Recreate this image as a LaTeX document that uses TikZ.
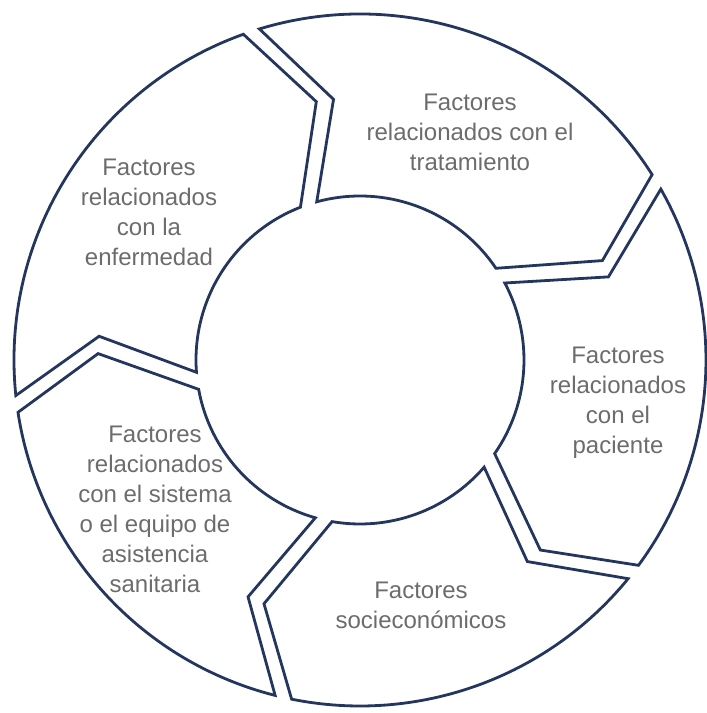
\documentclass[tikz,border=0pt]{standalone}
\usepackage{fontspec}
\setmainfont{Liberation Sans}
\definecolor{ringblue}{RGB}{36,54,94}
\definecolor{labelgray}{RGB}{108,108,108}
\tikzset{
  segline/.style={draw=ringblue, line width=1.4pt, line join=miter},
  seglabel/.style={text=labelgray, align=center, inner sep=0pt,
    font=\fontsize{12}{15}\selectfont}
}
\begin{document}
\begin{tikzpicture}[x=0.5pt,y=0.5pt]
\useasboundingbox (-360,-353) rectangle (347,360);
% ring pieces: start gap / end gap (degrees)
\foreach \a/\b in {187.3/108.3, 108.3/31, 31/-37.8, -37.8/-102.8, -102.8/-172.7}
  \draw[segline] ({\a-1.4}:346) arc[start angle={\a-1.4}, end angle={\b+1.4}, radius=346]
    -- ({\b-10.6+1.9}:262) -- ({\b+3}:164)
    arc[start angle={\b+3}, end angle={\a-3}, radius=164]
    -- ({\a-10.6-1.9}:262) -- cycle;
% labels
\node[seglabel] (tratamiento) at (110,228) {Factores\\relacionados con el\\tratamiento};
\node[seglabel] (enfermedad) at (-211,148) {Factores\\relacionados\\con la\\enfermedad};
\node[seglabel] (paciente) at (258,-43) {Factores\\relacionados\\con el\\paciente};
\node[seglabel] (socio) at (61,-245) {Factores\\socieconómicos};
\node[seglabel] (sistema) at (-205,-149) {Factores\\relacionados\\con el sistema\\o el equipo de\\asistencia\\sanitaria};
\end{tikzpicture}
\end{document}
